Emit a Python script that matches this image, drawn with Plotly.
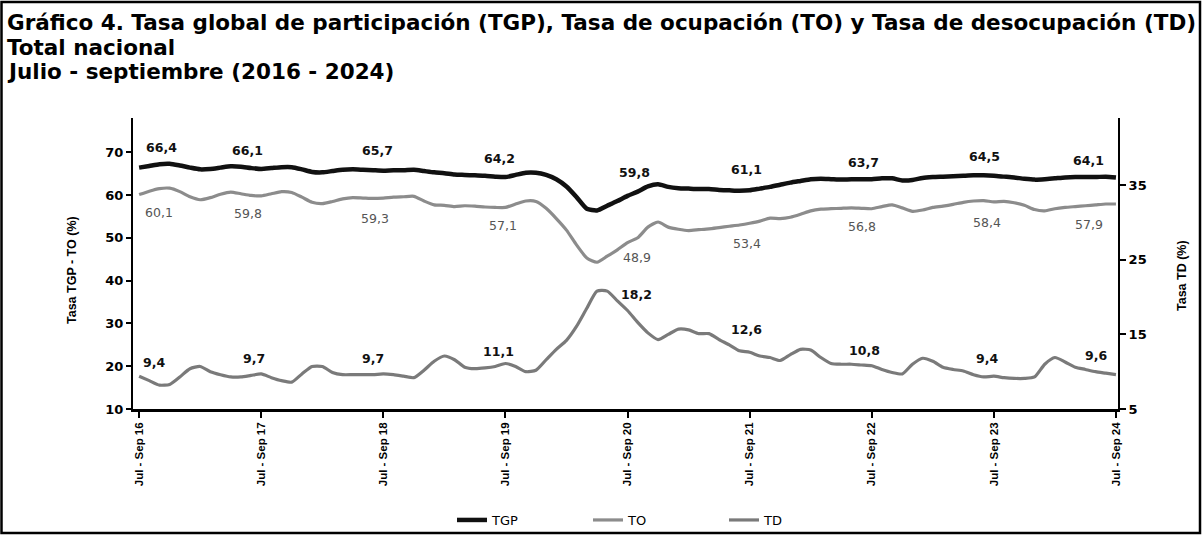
import plotly.graph_objects as go

# ---------------- data ----------------
years = ["16", "17", "18", "19", "20", "21", "22", "23", "24"]
tick_labels = ["Jul - Sep " + y for y in years]

tgp = [66.4, 66.8, 67.2, 67.3, 66.9, 66.4, 66.0, 66.1, 66.4, 66.7, 66.6, 66.3,
       66.1, 66.3, 66.5, 66.5, 66.0, 65.4, 65.3, 65.6, 65.9, 66.0, 65.9, 65.8,
       65.7, 65.8, 65.8, 65.9, 65.6, 65.3, 65.1, 64.8, 64.7, 64.6, 64.5, 64.3,
       64.2, 64.7, 65.2, 65.2, 64.7, 63.7, 62.0, 59.5, 56.8, 56.4, 57.5, 58.6,
       59.8, 60.8, 62.0, 62.5, 61.9, 61.6, 61.5, 61.4, 61.4, 61.2, 61.1, 61.0,
       61.1, 61.5, 61.9, 62.4, 62.9, 63.3, 63.7, 63.8, 63.7, 63.6, 63.7, 63.7,
       63.7, 63.9, 63.9, 63.4, 63.5, 64.0, 64.2, 64.3, 64.4, 64.5, 64.6, 64.6,
       64.5, 64.3, 64.1, 63.8, 63.6, 63.7, 63.9, 64.1, 64.2, 64.2, 64.2, 64.3,
       64.1]

to = [60.1, 60.9, 61.5, 61.6, 60.8, 59.6, 58.9, 59.4, 60.2, 60.7, 60.3, 59.9,
      59.8, 60.3, 60.8, 60.6, 59.5, 58.3, 58.0, 58.5, 59.1, 59.4, 59.3, 59.2,
      59.3, 59.5, 59.6, 59.7, 58.6, 57.7, 57.6, 57.3, 57.5, 57.4, 57.2, 57.1,
      57.1, 57.9, 58.6, 58.5, 56.9, 54.5, 51.8, 48.3, 45.3, 44.3, 45.7, 47.2,
      48.9, 50.0, 52.5, 53.7, 52.5, 52.0, 51.7, 51.9, 52.1, 52.4, 52.7, 53.0,
      53.4, 53.9, 54.6, 54.5, 54.8, 55.5, 56.3, 56.7, 56.8, 56.9, 57.0, 56.9,
      56.8, 57.3, 57.7, 57.0, 56.2, 56.5, 57.1, 57.4, 57.8, 58.3, 58.6, 58.7,
      58.4, 58.5, 58.2, 57.6, 56.6, 56.3, 56.8, 57.1, 57.3, 57.5, 57.7, 57.9,
      57.9]

td = [9.4, 8.8, 8.2, 8.3, 9.3, 10.4, 10.7, 10.0, 9.6, 9.3, 9.3, 9.5,
      9.7, 9.2, 8.8, 8.6, 9.7, 10.7, 10.7, 9.9, 9.6, 9.6, 9.6, 9.6,
      9.7, 9.6, 9.4, 9.2, 10.2, 11.4, 12.1, 11.6, 10.6, 10.4, 10.5, 10.7,
      11.1, 10.7, 10.0, 10.2, 11.6, 13.0, 14.2, 16.1, 18.5, 20.8, 20.8, 19.5,
      18.2, 16.6, 15.2, 14.3, 15.0, 15.7, 15.6, 15.1, 15.1, 14.3, 13.6, 12.8,
      12.6, 12.1, 11.9, 11.5, 12.3, 13.0, 12.9, 11.9, 11.1, 11.0, 11.0, 10.9,
      10.8, 10.3, 9.9, 9.7, 11.0, 11.8, 11.4, 10.6, 10.3, 10.1, 9.6, 9.3,
      9.4, 9.2, 9.1, 9.1, 9.3, 11.0, 11.9, 11.3, 10.6, 10.3, 10.0, 9.8,
      9.6]

# ---------------- layout helpers ----------------
W, H = 1202, 535
ML, MR, MT, MB = 133, 84, 118, 126
PW, PH = W - ML - MR, H - MT - MB


def px(xpix):
    return (xpix - ML) / PW


def py(ypix):
    return (H - MB - ypix) / PH


x = list(range(len(tgp)))
label_idx = list(range(0, len(tgp), 12))

# label pixel offsets (style only)
tgp_off = [(22, 20), (-14, 18), (-6, 20), (-6, 19), (7, 23), (-3, 21), (-8, 17), (-9, 19), (-27, 17)]
to_off = [(20, -18), (-13, -18), (-8, -20), (-2, -18), (9, -15), (-3, -20), (-10, -18), (-7, -21), (-27, -20)]
td_off = [(15, 14), (-7, 15), (-10, 15), (-7, 12), (9, 16), (-3, 23), (-7, 15), (-7, 18), (-20, 19)]

LBL_FONT = "DejaVu Sans"
NARROW = "Liberation Sans Narrow, Arial Narrow, Liberation Sans"

fig = go.Figure()
fig.add_trace(go.Scatter(x=x, y=tgp, name="TGP", mode="lines",
                         line=dict(color="#111111", width=4.5, shape="spline", smoothing=0.6)))
fig.add_trace(go.Scatter(x=x, y=to, name="TO", mode="lines",
                         line=dict(color="#8c8c8c", width=3.2, shape="spline", smoothing=0.6)))
fig.add_trace(go.Scatter(x=x, y=td, name="TD", mode="lines", yaxis="y2",
                         line=dict(color="#7a7a7a", width=3.2, shape="spline", smoothing=0.6)))


def fmt(v):
    return f"{v:.1f}".replace(".", ",")


annotations = []
for k, i in enumerate(label_idx):
    annotations.append(dict(x=i, y=tgp[i], xref="x", yref="y", text="<b>" + fmt(tgp[i]) + "</b>",
                            showarrow=False, xshift=tgp_off[k][0], yshift=tgp_off[k][1],
                            font=dict(family=LBL_FONT, size=12.5, color="#111111")))
    annotations.append(dict(x=i, y=to[i], xref="x", yref="y", text=fmt(to[i]),
                            showarrow=False, xshift=to_off[k][0], yshift=to_off[k][1],
                            font=dict(family=LBL_FONT, size=12.5, color="#555555")))
    annotations.append(dict(x=i, y=td[i], xref="x", yref="y2", text="<b>" + fmt(td[i]) + "</b>",
                            showarrow=False, xshift=td_off[k][0], yshift=td_off[k][1],
                            font=dict(family=LBL_FONT, size=12.5, color="#111111")))

# titles
title_lines = ["Gráfico 4. Tasa global de participación (TGP), Tasa de ocupación (TO) y Tasa de desocupación (TD)",
               "Total nacional",
               "Julio - septiembre (2016 - 2024)"]
title_y = [22, 47, 72]
for t, yy in zip(title_lines, title_y):
    annotations.append(dict(x=px(5), y=py(yy), xref="paper", yref="paper", xanchor="left", yanchor="middle",
                            text="<b>" + t + "</b>", showarrow=False,
                            font=dict(family="DejaVu Sans", size=21.5, color="#000000")))

# axis titles
annotations.append(dict(x=px(72), y=py(270), xref="paper", yref="paper", xanchor="center", yanchor="middle",
                        text="<b>Tasa TGP - TO (%)</b>", textangle=-90, showarrow=False,
                        font=dict(family=NARROW, size=12.5, color="#000")))
annotations.append(dict(x=px(1182), y=py(276), xref="paper", yref="paper", xanchor="center", yanchor="middle",
                        text="<b>Tasa TD (%)</b>", textangle=-90, showarrow=False,
                        font=dict(family=NARROW, size=12.5, color="#000")))

fig.update_layout(
    width=W, height=H,
    margin=dict(l=ML, r=MR, t=MT, b=MB, autoexpand=False),
    paper_bgcolor="white", plot_bgcolor="white",
    showlegend=True,
    legend=dict(orientation="h", x=px(452), y=py(520), xanchor="left", yanchor="middle",
                bgcolor="rgba(0,0,0,0)",
                font=dict(family="DejaVu Sans", size=13, color="#000"),
                entrywidth=91, entrywidthmode="pixels", itemwidth=30, tracegroupgap=0),
    annotations=annotations,
    xaxis=dict(range=[-0.6, 96.2], tickmode="array", tickvals=label_idx,
               ticktext=["<b>" + t + "</b>" for t in tick_labels],
               tickangle=-90, ticks="outside", ticklen=6, tickwidth=1.5, tickcolor="#000",
               showline=True, linecolor="#000", linewidth=2.5, showgrid=False, zeroline=False,
               tickfont=dict(family=NARROW, size=11.5, color="#000")),
    yaxis=dict(range=[10, 78], tick0=10, dtick=10, ticks="outside", ticklen=5, tickwidth=1.5,
               tickcolor="#000", showline=True, linecolor="#000", linewidth=2, showgrid=False,
               zeroline=False, tickfont=dict(family="DejaVu Sans", size=13, color="#000"),
               tickprefix="<b>", ticksuffix="</b>"),
    yaxis2=dict(range=[5, 44], tick0=5, dtick=10, overlaying="y", side="right", ticks="outside",
                ticklen=6, tickwidth=1.5, tickcolor="#000", showline=True, linecolor="#000",
                linewidth=2, showgrid=False, zeroline=False,
                tickfont=dict(family="DejaVu Sans", size=13, color="#000"),
                tickprefix="<b>", ticksuffix="</b>"),
    shapes=[dict(type="rect", xref="paper", yref="paper", x0=px(1.5), x1=px(1200), y0=py(533), y1=py(2),
                 line=dict(color="#000", width=2.5), fillcolor="rgba(0,0,0,0)", layer="above")],
)

fig.write_html("out.html", config={"displayModeBar": False},
               post_script="document.body.style.margin='0';document.body.style.padding='0';")
